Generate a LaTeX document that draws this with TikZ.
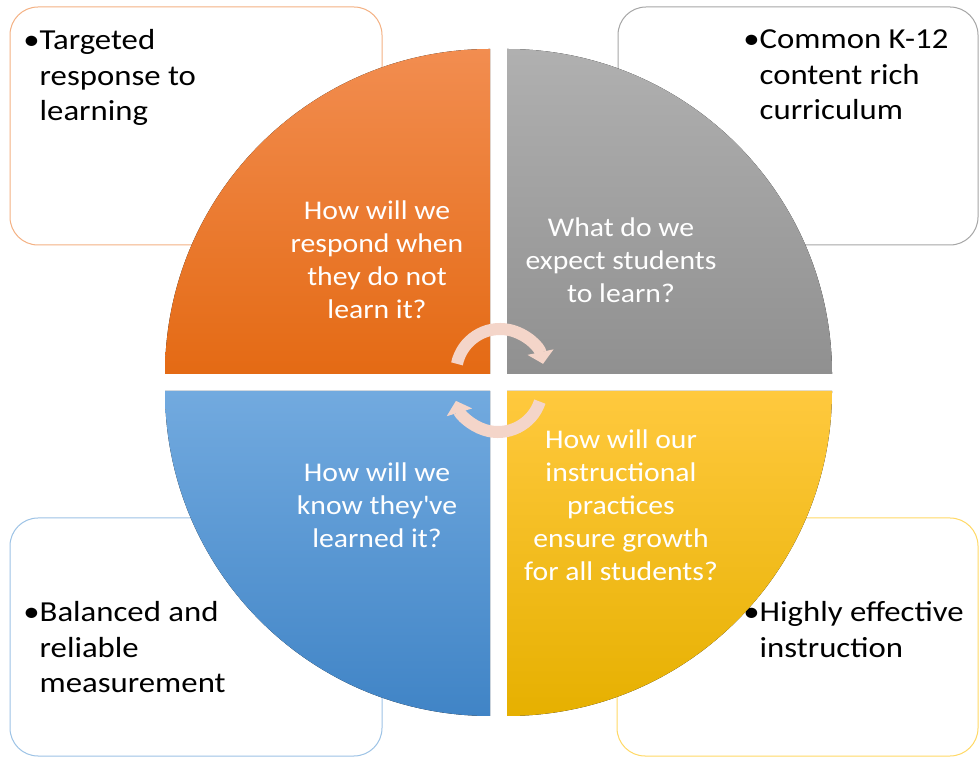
\documentclass[tikz,border=0pt]{standalone}
\usepackage{fontspec}
\setmainfont{Carlito}[FakeStretch=1.1]
\newfontfamily\notefont{Carlito}[FakeStretch=1.13]
\usetikzlibrary{arrows.meta,positioning}
\definecolor{orgtop}{HTML}{F28D50}
\definecolor{orgbot}{HTML}{E46A14}
\definecolor{grytop}{HTML}{B0B0B0}
\definecolor{grybot}{HTML}{909090}
\definecolor{blutop}{HTML}{72AADF}
\definecolor{blubot}{HTML}{4084C6}
\definecolor{yeltop}{HTML}{FFC93E}
\definecolor{yelbot}{HTML}{E6B000}
\definecolor{orgline}{HTML}{F4B183}
\definecolor{gryline}{HTML}{A6A6A6}
\definecolor{bluline}{HTML}{9DC3E6}
\definecolor{yelline}{HTML}{FFD966}
\definecolor{cycfill}{HTML}{F4D5C9}

\begin{document}
\begin{tikzpicture}[x=1pt,y=1pt,
  box/.style={draw=#1,fill=white,rounded corners=28pt,line width=1pt,minimum height=238pt,inner sep=0pt},
  note/.style={font=\notefont\fontsize{29}{35.5}\selectfont,align=left,inner sep=0pt,anchor=north west},
  ques/.style={font=\fontsize{27}{33}\selectfont,text=white,align=center,inner sep=0pt},
  cyc/.style={draw=cycfill,line width=12pt,-{Triangle[length=12pt,width=26pt]}}]
\useasboundingbox (0,0) rectangle (979,757);
\fill[white] (0,0) rectangle (979,757);
% outer boxes
\node[box=orgline,minimum width=372pt] (b1) at (196,631) {};
\node[box=gryline,minimum width=360pt] (b2) at (798,631) {};
\node[box=bluline,minimum width=372pt] (b3) at (196,120) {};
\node[box=yelline,minimum width=361pt] (b4) at (797.5,120) {};
\node[note] (t1) at ([xshift=30pt,yshift=-23pt]b1.north west) {\llap{•}Targeted\\response to\\learning};
\node[note] (t2) at ([xshift=142pt,yshift=-23pt]b2.north west) {\llap{•}Common K-12\\content rich\\curriculum};
\node[note] (t3) at ([xshift=30pt,yshift=-84pt]b3.north west) {\llap{•}Balanced and\\reliable\\measurement};
\node[note] (t4) at ([xshift=143pt,yshift=-84pt]b4.north west) {\llap{•}Highly effective\\instruction};
% quarter discs
\fill[top color=orgtop,bottom color=orgbot] (490,383) -- (165,383) arc[start angle=180,end angle=90,radius=325] -- cycle;
\fill[top color=grytop,bottom color=grybot] (507,383) -- (507,708) arc[start angle=90,end angle=0,radius=325] -- cycle;
\fill[top color=blutop,bottom color=blubot] (490,366) -- (490,41) arc[start angle=270,end angle=180,radius=325] -- cycle;
\fill[top color=yeltop,bottom color=yelbot] (507,366) -- (832,366) arc[start angle=0,end angle=-90,radius=325] -- cycle;
\node[ques] (q1) at (377,497) {How will we\\respond when\\they do not\\learn it?};
\node[ques] (q2) at (621,497) {What do we\\expect students\\to learn?};
\node[ques] (q3) at (377,252) {How will we\\know they\textquotesingle ve\\learned it?};
\node[ques] (q4) at (621,252) {How will our\\instructional\\practices\\ensure growth\\for all students?};
% turning arrows in the middle
\coordinate (hub1) at (500,384);
\coordinate (hub2) at (498,369);
\draw[cyc] ([shift={(168:44)}]hub1) arc[start angle=168,end angle=12,radius=44];
\draw[cyc] ([shift={(-18:44)}]hub2) arc[start angle=-18,end angle=-163,radius=44];
\end{tikzpicture}
\end{document}
